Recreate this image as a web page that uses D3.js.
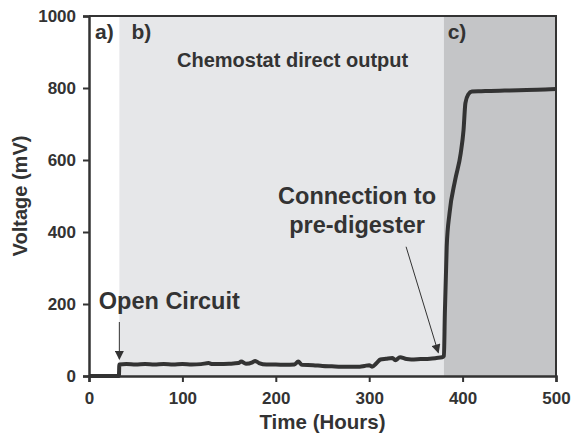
<!DOCTYPE html>
<html>
<head>
<meta charset="utf-8">
<script src="https://cdn.jsdelivr.net/npm/d3@7"></script>
<style>
    body { margin: 0; background: #fff; }
    text { font-family: "Liberation Sans", Arial, sans-serif; font-weight: bold; fill: #333; }
</style>
</head>
<body>
<div id="chart"></div>
<script>
(function () {
    'use strict';

    // time in hours
    var hours = [0, 32, 32.5, 40, 50, 60, 70, 80, 90, 100, 110, 120, 128, 132, 140, 150,
        160, 163, 168, 175, 178, 182, 190, 200, 210, 220, 224, 228, 240, 250, 260, 270,
        280, 290, 295, 300, 303, 308, 312, 318, 325, 328, 333, 340, 345, 355, 365, 372,
        378, 380, 381, 383, 386, 392, 398, 401, 403, 406, 410, 420, 430, 445, 460, 480, 500];
    // voltage in mV
    var voltage = [0, 0, 32, 33, 32, 33, 32, 33, 32, 33, 32, 33, 36, 33, 33, 34,
        36, 40, 34, 38, 42, 36, 32, 32, 31, 32, 40, 31, 30, 28, 27, 26,
        26, 26, 28, 30, 26, 36, 46, 48, 50, 44, 52, 47, 46, 47, 48, 50,
        52, 56, 175, 360, 452, 544, 619, 683, 758, 782, 790, 791, 792, 793, 794, 795, 797];

    var xTicks = [0, 100, 200, 300, 400, 500];
    var yTicks = [0, 200, 400, 600, 800, 1000];

    // shaded phases (hours)
    var phases = [
        {start: 32.5, end: 380, fill: '#e6e7e9'},
        {start: 380, end: 500, fill: '#c4c5c7'}
    ];

    var width = 571, height = 435;
    var margin = {top: 16, right: 15, bottom: 59, left: 89};

    var svg = d3.select('#chart').append('svg')
        .attr('width', width)
        .attr('height', height);

    var x = d3.scaleLinear().domain([0, 500]).range([margin.left, width - margin.right]);
    var y = d3.scaleLinear().domain([0, 1000]).range([height - margin.bottom, margin.top]);

    svg.append('g').selectAll('rect')
        .data(phases)
        .enter().append('rect')
        .attr('x', function (d) { return x(d.start); })
        .attr('y', y(1000))
        .attr('width', function (d) { return x(d.end) - x(d.start); })
        .attr('height', y(0) - y(1000))
        .attr('fill', function (d) { return d.fill; });

    var data = hours.map(function (h, i) { return [h, voltage[i]]; });

    var line = d3.line()
        .x(function (d) { return x(d[0]); })
        .y(function (d) { return y(d[1]); })
        .curve(d3.curveMonotoneX);

    svg.append('path')
        .datum(data)
        .attr('fill', 'none')
        .attr('stroke', '#333')
        .attr('stroke-width', 4)
        .attr('stroke-linejoin', 'round')
        .attr('d', line);

    // frame
    svg.append('path')
        .attr('d', 'M' + x(0) + ',' + y(1000) + 'H' + x(500) + 'V' + y(0))
        .attr('fill', 'none')
        .attr('stroke', '#333')
        .attr('stroke-width', 2);

    var xAxis = svg.append('g')
        .attr('transform', 'translate(0,' + y(0) + ')')
        .call(d3.axisBottom(x).tickValues(xTicks).tickFormat(d3.format('d')).tickSize(6).tickPadding(10));
    var yAxis = svg.append('g')
        .attr('transform', 'translate(' + x(0) + ',0)')
        .call(d3.axisLeft(y).tickValues(yTicks).tickFormat(d3.format('d')).tickSize(6).tickPadding(7));

    [xAxis, yAxis].forEach(function (g) {
        g.select('.domain').attr('stroke', '#333').attr('stroke-width', 2.5);
        g.selectAll('.tick line').attr('stroke', '#333').attr('stroke-width', 2);
        g.selectAll('.tick text').style('font-size', '17px')
            .style('font-family', '"Liberation Sans", Arial, sans-serif')
            .style('font-weight', 'bold').attr('fill', '#333');
    });

    svg.append('text')
        .attr('x', (x(0) + x(500)) / 2)
        .attr('y', 429)
        .attr('text-anchor', 'middle')
        .style('font-size', '20.5px')
        .text('Time (Hours)');

    svg.append('text')
        .attr('transform', 'translate(27,' + ((y(0) + y(1000)) / 2) + ') rotate(-90)')
        .attr('text-anchor', 'middle')
        .style('font-size', '20px')
        .text('Voltage (mV)');

    // phase labels
    var labels = [
        {t: 'a)', h: 6.5},
        {t: 'b)', h: 45.5},
        {t: 'c)', h: 384}
    ];
    svg.append('g').selectAll('text')
        .data(labels)
        .enter().append('text')
        .attr('x', function (d) { return x(d.h); })
        .attr('y', 39)
        .style('font-size', '21px')
        .text(function (d) { return d.t; });

    svg.append('text')
        .attr('x', x(218))
        .attr('y', 67)
        .attr('text-anchor', 'middle')
        .style('font-size', '20px')
        .text('Chemostat direct output');

    svg.append('text')
        .attr('text-anchor', 'middle')
        .style('font-size', '23.5px')
        .selectAll('tspan')
        .data(['Connection to', 'pre-digester'])
        .enter().append('tspan')
        .attr('x', x(287))
        .attr('y', function (d, i) { return 204 + i * 29; })
        .text(function (d) { return d; });

    svg.append('text')
        .attr('x', x(10.5))
        .attr('y', 309)
        .style('font-size', '23.5px')
        .text('Open Circuit');

    // arrows
    var defs = svg.append('defs');
    defs.append('marker')
        .attr('id', 'arrow')
        .attr('viewBox', '0 0 10 10')
        .attr('refX', 9).attr('refY', 5)
        .attr('markerWidth', 10).attr('markerHeight', 9)
        .attr('markerUnits', 'userSpaceOnUse')
        .attr('orient', 'auto')
        .append('path')
        .attr('d', 'M0,0L10,5L0,10Z')
        .attr('fill', '#333');

    var arrows = [
        {h1: 32.5, v1: 150, h2: 32.5, v2: 47},
        {h1: 339.5, v1: 359, h2: 374, v2: 65}
    ];
    svg.append('g').selectAll('line')
        .data(arrows)
        .enter().append('line')
        .attr('x1', function (d) { return x(d.h1); })
        .attr('y1', function (d) { return y(d.v1); })
        .attr('x2', function (d) { return x(d.h2); })
        .attr('y2', function (d) { return y(d.v2); })
        .attr('stroke', '#333')
        .attr('stroke-width', 1)
        .attr('marker-end', 'url(#arrow)');
})();
</script>
</body>
</html>
